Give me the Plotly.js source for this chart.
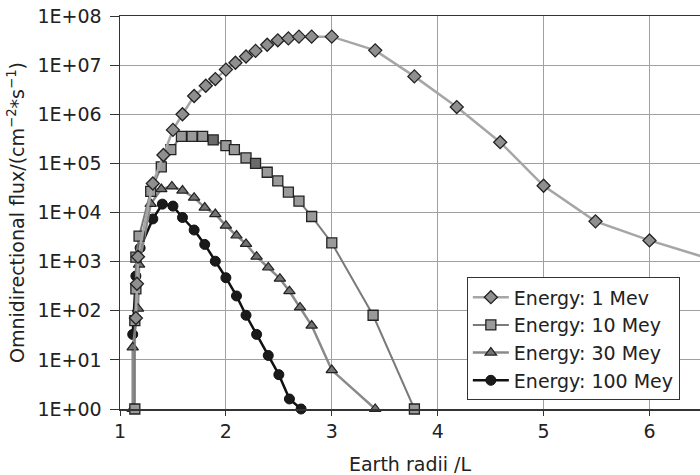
<!DOCTYPE html>
<html>
<head>
<meta charset="utf-8">
<script src="https://cdn.plot.ly/plotly-3.0.1.min.js"></script>
<style>
html,body{margin:0;padding:0;background:#fff;}
#chart{width:700px;height:475px;}
</style>
</head>
<body>
<div id="chart"></div>
<script>
// Earth radii (L) and omnidirectional flux for each energy
const seriesNames = ["Energy: 1 Mev", "Energy: 10 Mey", "Energy: 30 Mey", "Energy: 100 Mey"];

const x1MeV = [1.15, 1.16, 1.17, 1.31, 1.41, 1.50, 1.59, 1.70, 1.81, 1.90, 2.00, 2.09, 2.19, 2.28, 2.39, 2.49, 2.59, 2.69, 2.81, 3.00, 3.41, 3.78, 4.18, 4.59, 5.00, 5.49, 6.00, 7.00];
const y1MeV = [71, 355, 1260, 3.9e4, 1.48e5, 4.8e5, 1.0e6, 2.35e6, 3.8e6, 5.2e6, 8.1e6, 1.12e7, 1.5e7, 1.95e7, 2.6e7, 3.2e7, 3.5e7, 3.8e7, 3.8e7, 3.8e7, 2.0e7, 5.9e6, 1.4e6, 2.7e5, 3.5e4, 6.6e3, 2.7e3, 590];

const x10MeV = [1.14, 1.14, 1.15, 1.15, 1.18, 1.29, 1.39, 1.48, 1.58, 1.68, 1.78, 1.88, 2.00, 2.08, 2.19, 2.28, 2.39, 2.49, 2.59, 2.69, 2.81, 3.00, 3.39, 3.78];
const y10MeV = [1, 63, 280, 1230, 3300, 2.7e4, 8.5e4, 1.9e5, 3.55e5, 3.55e5, 3.55e5, 3.0e5, 2.3e5, 1.9e5, 1.3e5, 1.0e5, 6.6e4, 4.4e4, 2.6e4, 1.7e4, 8300, 2400, 81, 1];

const x30MeV = [1.12, 1.12, 1.17, 1.18, 1.29, 1.39, 1.49, 1.59, 1.70, 1.80, 1.90, 2.00, 2.10, 2.19, 2.29, 2.40, 2.51, 2.60, 2.70, 2.81, 3.00, 3.41];
const y30MeV = [1, 18, 110, 870, 1.5e4, 3.0e4, 3.4e4, 2.8e4, 2.0e4, 1.26e4, 9300, 5400, 3400, 2300, 1260, 760, 450, 250, 117, 50, 6.2, 1];

const x100MeV = [1.12, 1.15, 1.19, 1.31, 1.40, 1.50, 1.59, 1.70, 1.80, 1.90, 2.00, 2.10, 2.19, 2.29, 2.40, 2.50, 2.60, 2.71];
const y100MeV = [33, 510, 1900, 7400, 1.48e4, 1.35e4, 7900, 4400, 2240, 1020, 470, 200, 81, 33, 12.3, 5.0, 1.6, 1];

const yTickVals = [1, 10, 100, 1e3, 1e4, 1e5, 1e6, 1e7, 1e8];
const yTickText = ["1E+00", "1E+01", "1E+02", "1E+03", "1E+04", "1E+05", "1E+06", "1E+07", "1E+08"];
const xTickVals = [1, 2, 3, 4, 5, 6];

const FONT = "DejaVu Sans, Liberation Sans, Arial, sans-serif";
const dark = "#222222";

// a couple of squares print darker in the reference
const sqColors = x10MeV.map((v, i) => (i === 11 || i === 15) ? "#6a6a6a" : "#9a9a9a");

const traces = [
  {
    x: x100MeV, y: y100MeV, name: seriesNames[3], mode: "lines+markers",
    line: {color: "#111111", width: 2.5},
    marker: {symbol: "circle", size: 10, color: "#1a1a1a", line: {color: "#111111", width: 1}},
    cliponaxis: false
  },
  {
    x: x30MeV, y: y30MeV, name: seriesNames[2], mode: "lines+markers",
    line: {color: "#8a8a8a", width: 2.5},
    marker: {symbol: "triangle-up", size: 10, color: "#737373", line: {color: dark, width: 1.2}},
    cliponaxis: false
  },
  {
    x: x10MeV, y: y10MeV, name: seriesNames[1], mode: "lines+markers",
    line: {color: "#7a7a7a", width: 2},
    marker: {symbol: "square", size: 10, color: sqColors, line: {color: dark, width: 1.3}},
    cliponaxis: false
  },
  {
    x: x1MeV, y: y1MeV, name: seriesNames[0], mode: "lines+markers",
    line: {color: "#a6a6a6", width: 2.5},
    marker: {symbol: "diamond", size: 10, color: "#8f8f8f", line: {color: dark, width: 1.3}},
    cliponaxis: false
  }
];

const layout = {
  width: 700, height: 475,
  margin: {l: 120, r: 0, t: 16, b: 66, pad: 0},
  paper_bgcolor: "#ffffff", plot_bgcolor: "#ffffff",
  font: {family: FONT, size: 19, color: dark},
  showlegend: true,
  legend: {
    x: 0.598, y: 0.335, xanchor: "left", yanchor: "top",
    bgcolor: "#ffffff", bordercolor: "#333333", borderwidth: 1,
    font: {family: FONT, size: 19, color: dark},
    traceorder: "reversed", tracegroupgap: 0, itemwidth: 36
  },
  xaxis: {
    range: [1, 6.477], type: "linear",
    tickvals: xTickVals, ticktext: xTickVals.map(String),
    showgrid: true, gridcolor: "#a0a0a0", gridwidth: 1,
    showline: true, linecolor: "#333333", linewidth: 1.5, mirror: true,
    ticks: "outside", ticklen: 5, tickcolor: "#333333",
    zeroline: false,
    tickfont: {family: FONT, size: 19, color: dark},
    title: {text: "Earth radii /L", font: {family: FONT, size: 19, color: dark}, standoff: 17}
  },
  yaxis: {
    type: "log", range: [0, 8],
    tickvals: yTickVals, ticktext: yTickText,
    showgrid: true, gridcolor: "#a0a0a0", gridwidth: 1,
    showline: true, linecolor: "#333333", linewidth: 1.5, mirror: false,
    ticks: "outside", ticklen: 9, tickcolor: "#333333",
    ticklabelstandoff: 4,
    zeroline: false,
    tickfont: {family: FONT, size: 19, color: dark},
    title: {text: "Omnidirectional flux/(cm<sup>−2</sup>*s<sup>−1</sup>)", font: {family: FONT, size: 19, color: dark}, standoff: 8}
  }
};

Plotly.newPlot("chart", traces, layout, {displayModeBar: false, staticPlot: true});
</script>
</body>
</html>
